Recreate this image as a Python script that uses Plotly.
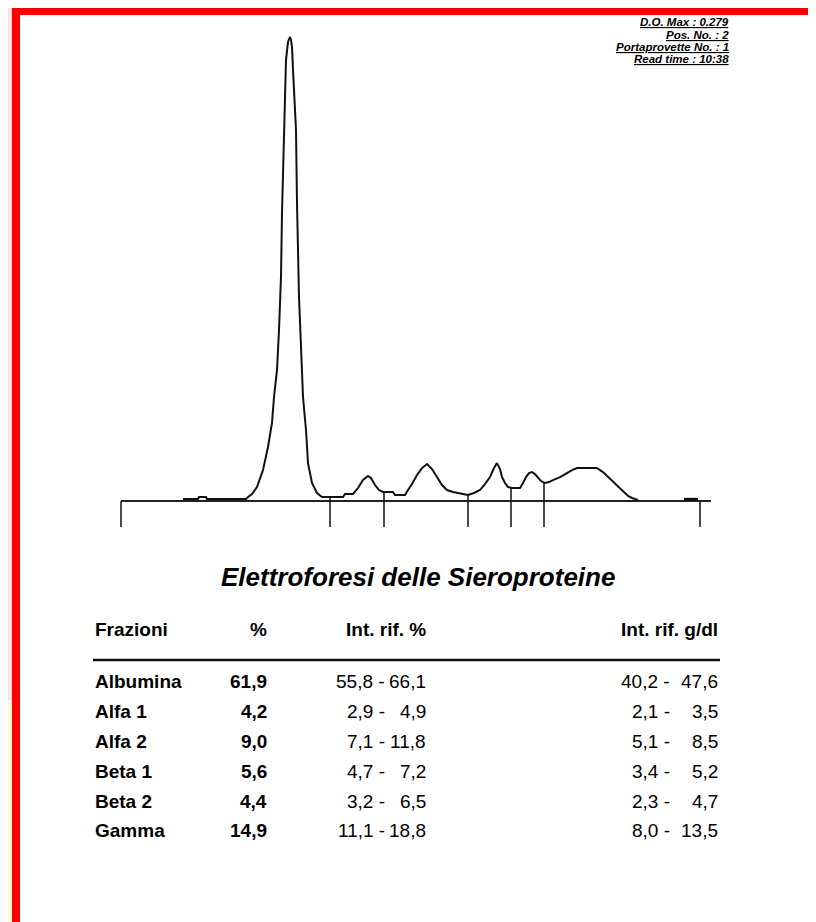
import plotly.graph_objects as go

# ---------------- data ----------------
mobility = [62, 77, 78, 85, 86, 125, 127, 131, 136, 142, 147, 151, 153, 156, 158, 160, 161, 163,
            165, 167, 169, 170, 171, 172, 175, 176, 178, 180, 182, 185, 187, 191, 196, 201,
            222, 224, 232, 237, 242, 247, 250, 254, 258, 262, 272, 274, 284, 287, 291, 296,
            301, 306, 311, 316, 321, 326, 332, 342, 347, 353, 359, 364, 369, 373, 376, 379,
            381, 384, 387, 391, 399, 402, 405, 408, 411, 414, 417, 420, 424, 428, 432, 439,
            446, 451, 456, 476, 482, 487, 492, 497, 502, 507, 511, 517]
density = [0.0012, 0.0012, 0.0024, 0.0024, 0.0012, 0.0012, 0.0024, 0.0042, 0.0084, 0.0186,
           0.0325, 0.0469, 0.0625, 0.0788, 0.1028, 0.1347, 0.1732, 0.2129, 0.2652, 0.2760,
           0.2790, 0.2772, 0.2730, 0.2592, 0.2231, 0.1792, 0.1227, 0.0926, 0.0625, 0.0427,
           0.0228, 0.0108, 0.0048, 0.0024, 0.0024, 0.0042, 0.0042, 0.0078, 0.0126, 0.0150,
           0.0138, 0.0096, 0.0066, 0.0054, 0.0054, 0.0036, 0.0036, 0.0066, 0.0102, 0.0156,
           0.0198, 0.0222, 0.0192, 0.0144, 0.0096, 0.0066, 0.0054, 0.0042, 0.0036, 0.0048,
           0.0066, 0.0102, 0.0144, 0.0198, 0.0228, 0.0192, 0.0144, 0.0108, 0.0084, 0.0078,
           0.0078, 0.0108, 0.0144, 0.0168, 0.0174, 0.0162, 0.0138, 0.0120, 0.0108, 0.0114,
           0.0126, 0.0144, 0.0168, 0.0186, 0.0198, 0.0198, 0.0174, 0.0144, 0.0114, 0.0084,
           0.0054, 0.0030, 0.0018, 0.0006]
fraction_bounds = [0, 209, 263, 347, 390, 423, 579]
bound_top = [0, 0.0024, 0.0054, 0.0036, 0.0078, 0.0108, 0]
baseline_span = [0, 590]
end_mark_x = [563, 577]
end_mark_y = [0.0010, 0.0010]

info_lines = ["D.O. Max : 0.279", "Pos. No. : 2", "Portaprovette No. : 1", "Read time : 10:38"]
title_text = "Elettroforesi delle Sieroproteine"
headers = ["Frazioni", "%", "Int. rif. %", "Int. rif. g/dl"]
fractions = ["Albumina", "Alfa 1", "Alfa 2", "Beta 1", "Beta 2", "Gamma"]
percent = [61.9, 4.2, 9.0, 5.6, 4.4, 14.9]
ref_pct_low = [55.8, 2.9, 7.1, 4.7, 3.2, 11.1]
ref_pct_high = [66.1, 4.9, 11.8, 7.2, 6.5, 18.8]
ref_gdl_low = [40.2, 2.1, 5.1, 3.4, 2.3, 8.0]
ref_gdl_high = [47.6, 3.5, 8.5, 5.2, 4.7, 13.5]

# ---------------- layout helpers ----------------
# the page body has an 8px margin, so the figure is made 8px smaller and
# positions below are given in window pixels
OFF = 8
W, H = 816 - OFF, 922 - OFF
ML, MT, PW, PH = 112, 22, 592, 500
TICK_DEPTH = -0.0156


def px(x):
    return (x - OFF - ML) / PW


def py(y):
    return (MT + PH - (y - OFF)) / PH


def fmt(v):
    return f"{v:.1f}".replace(".", ",")


FONT = "Liberation Sans, Arial, sans-serif"
INK = "#111111"

fig = go.Figure()

# baseline
fig.add_trace(go.Scatter(x=baseline_span, y=[0, 0], mode="lines",
                         line=dict(color="#222222", width=2), hoverinfo="skip"))
# fraction boundaries
bx, by = [], []
for b, t in zip(fraction_bounds, bound_top):
    bx += [b, b, None]
    by += [t, TICK_DEPTH, None]
fig.add_trace(go.Scatter(x=bx, y=by, mode="lines",
                         line=dict(color=INK, width=1.5), hoverinfo="skip"))
# densitogram
fig.add_trace(go.Scatter(x=mobility, y=density, mode="lines",
                         line=dict(color=INK, width=2), hoverinfo="skip"))
fig.add_trace(go.Scatter(x=end_mark_x, y=end_mark_y, mode="lines",
                         line=dict(color=INK, width=3), hoverinfo="skip"))

ann = []
# info block
info_y = [22, 35, 47, 59]
for t, yy in zip(info_lines, info_y):
    ann.append(dict(x=px(731), y=py(yy), xref="paper", yref="paper", xanchor="right",
                    yanchor="middle", showarrow=False,
                    text=f"<b><i><u>{t}</u></i></b>",
                    font=dict(family=FONT, size=11.5, color="#000")))
# title
ann.append(dict(x=px(418), y=py(577), xref="paper", yref="paper", xanchor="center",
                yanchor="middle", showarrow=False, text=f"<b><i>{title_text}</i></b>",
                font=dict(family=FONT, size=26, color="#000")))
# header
hy = 629
hdr_pos = [(93, "left"), (269, "right"), (428, "right"), (720, "right")]
for h, (xx, anc) in zip(headers, hdr_pos):
    ann.append(dict(x=px(xx), y=py(hy), xref="paper", yref="paper", xanchor=anc,
                    yanchor="middle", showarrow=False, text=f"<b>{h}</b>",
                    font=dict(family=FONT, size=19, color="#000")))
# rows
row_y = [681, 711, 741, 771, 801, 831]
for i, yy in enumerate(row_y):
    items = [
        (93, "left", f"<b>{fractions[i]}</b>"),
        (269, "right", f"<b>{fmt(percent[i])}</b>"),
        (387, "right", f"{fmt(ref_pct_low[i])} -"),
        (428, "right", fmt(ref_pct_high[i])),
        (672, "right", f"{fmt(ref_gdl_low[i])} -"),
        (720, "right", fmt(ref_gdl_high[i])),
    ]
    for xx, anc, t in items:
        ann.append(dict(x=px(xx), y=py(yy), xref="paper", yref="paper", xanchor=anc,
                        yanchor="middle", showarrow=False, text=t,
                        font=dict(family=FONT, size=19, color="#000")))

shapes = [
    # watermark hints outside the frame
    dict(type="rect", xref="paper", yref="paper", x0=px(0), x1=px(12), y0=py(0), y1=py(700),
         fillcolor="#fbe1e1", line=dict(width=0), layer="below"),
    dict(type="rect", xref="paper", yref="paper", x0=px(0), x1=px(12), y0=py(700), y1=py(922),
         fillcolor="#fdfadc", line=dict(width=0), layer="below"),
    # red frame
    dict(type="rect", xref="paper", yref="paper", x0=px(12), x1=px(20), y0=py(7), y1=py(930),
         fillcolor="#ff0000", line=dict(width=0)),
    dict(type="rect", xref="paper", yref="paper", x0=px(12), x1=px(830), y0=py(7), y1=py(15),
         fillcolor="#ff0000", line=dict(width=0)),
    # table rule
    dict(type="line", xref="paper", yref="paper", x0=px(93), x1=px(720), y0=py(660), y1=py(660),
         line=dict(color="#111", width=2.5)),
]

fig.update_layout(
    width=W, height=H,
    margin=dict(l=ML, r=W - ML - PW, t=MT, b=H - MT - PH, pad=0),
    paper_bgcolor="white", plot_bgcolor="white",
    showlegend=False,
    xaxis=dict(range=[-1, 591], visible=False, fixedrange=True),
    yaxis=dict(range=[-0.01744, 0.2832], visible=False, fixedrange=True),
    annotations=ann, shapes=shapes,
)

fig.write_html("out.html")
